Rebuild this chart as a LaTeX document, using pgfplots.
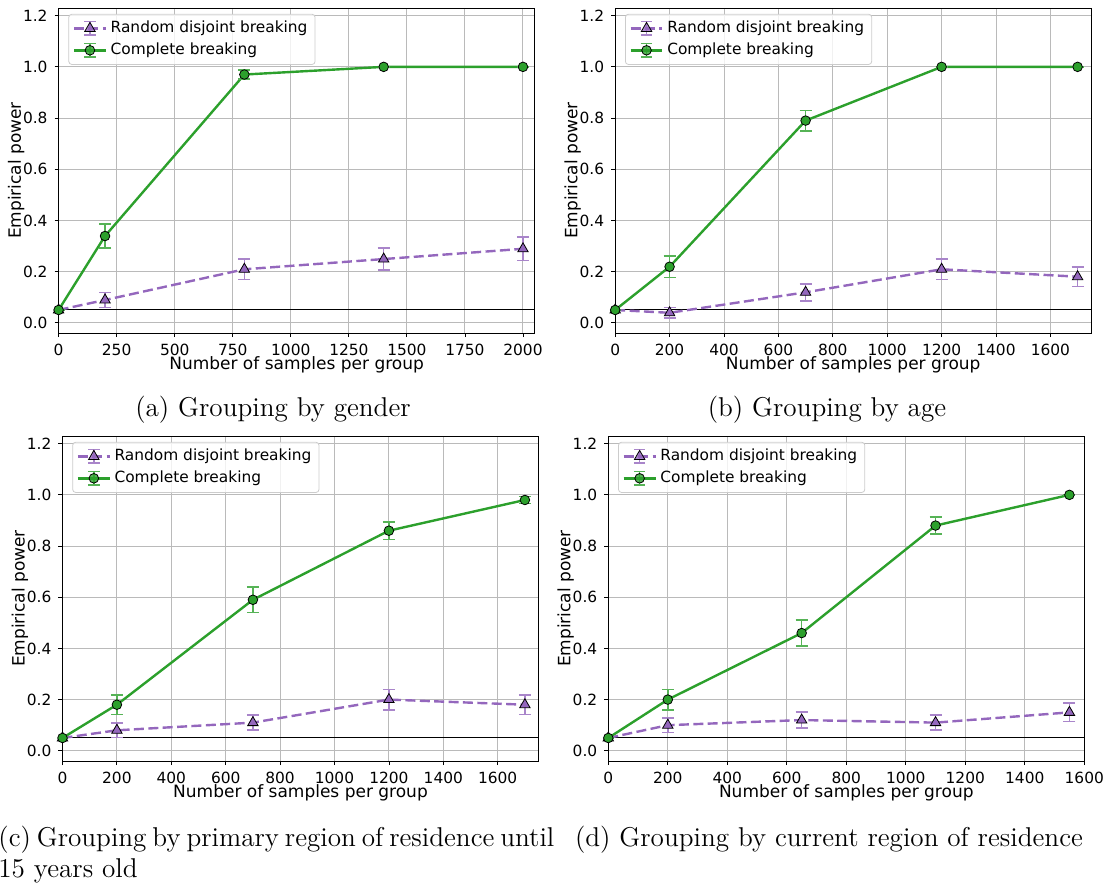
\documentclass[border=0pt]{standalone}
\usepackage{fontspec}
\usepackage{pgfplots}
\pgfplotsset{compat=1.18}
\newfontfamily\dejavu{DejaVu Sans}
\definecolor{tabpurple}{HTML}{9467BD}
\definecolor{tabgreen}{HTML}{2CA02C}
\colorlet{purpleerr}{tabpurple!80!white}
\colorlet{greenerr}{tabgreen!80!white}
\newcommand{\tickfont}{\dejavu\fontsize{7.7}{9.2}\selectfont}
\newcommand{\labfont}{\dejavu\fontsize{8.5}{10.2}\selectfont}
\newcommand{\capfont}{\fontsize{13.6}{16.3}\selectfont}
\pgfplotsset{
  powerax/.style={
    scale only axis, height=162.5pt, width=238pt,
    ymin=-0.04, ymax=1.23,
    ytick={0,0.2,0.4,0.6,0.8,1.0,1.2},
    yticklabel style={/pgf/number format/.cd, fixed, fixed zerofill, precision=1},
    xticklabel style={/pgf/number format/.cd, fixed, 1000 sep={}},
    /pgf/number format/assume math mode=true,
    grid=major, major grid style={line width=0.5pt, color=black!27},
    tick align=outside, major tick length=2pt,
    tick style={black, line width=0.4pt},
    xtick pos=bottom, ytick pos=left,
    axis line style={line width=0.5pt},
    ticklabel style={font=\tickfont},
    xlabel={Number of samples per group}, ylabel={Empirical power},
    every axis x label/.style={at={(axis description cs:0.5,0)}, anchor=center, yshift=-16pt, font=\labfont},
    every axis y label/.style={at={(axis description cs:0,0.5)}, rotate=90, anchor=center, yshift=21.25pt, font=\labfont},
    legend style={at={(0.0206,0.982)}, anchor=north west, draw=black!20,
      rounded corners=1.5pt, fill=white, fill opacity=0.8, text opacity=1,
      font=\tickfont, inner xsep=2pt, inner ysep=1.6pt,
      nodes={inner sep=1.8pt}},
    legend cell align=left,
  },
  purpleplot/.style={tabpurple, line width=1.2pt, dash pattern=on 5pt off 2.2pt,
    mark=triangle*, mark size=3pt,
    mark options={solid, fill=tabpurple, draw=black, line width=0.4pt},
    error bars/y dir=both, error bars/y explicit,
    error bars/error bar style={purpleerr, line width=0.8pt, solid},
    error bars/error mark options={rotate=90, mark size=3pt, purpleerr, line width=0.8pt, solid},
    legend image code/.code={
      \draw[purpleerr, line width=0.8pt, solid] (0.28cm,-0.12cm)--(0.28cm,0.12cm)
        (0.18cm,-0.12cm)--(0.38cm,-0.12cm) (0.18cm,0.12cm)--(0.38cm,0.12cm);
      \draw[tabpurple, line width=1.2pt, dash pattern=on 5pt off 2.2pt] (0cm,0cm)--(0.56cm,0cm);
      \draw[tabpurple, mark=triangle*, mark size=3pt, mark options={solid, fill=tabpurple, draw=black, line width=0.4pt}] plot coordinates {(0.28cm,0cm)};
    }},
  greenplot/.style={tabgreen, line width=1.2pt, solid,
    mark=*, mark size=2.4pt,
    mark options={solid, fill=tabgreen, draw=black, line width=0.4pt},
    error bars/y dir=both, error bars/y explicit,
    error bars/error bar style={greenerr, line width=0.8pt, solid},
    error bars/error mark options={rotate=90, mark size=3pt, greenerr, line width=0.8pt, solid},
    legend image code/.code={
      \draw[greenerr, line width=0.8pt, solid] (0.28cm,-0.12cm)--(0.28cm,0.12cm)
        (0.18cm,-0.12cm)--(0.38cm,-0.12cm) (0.18cm,0.12cm)--(0.38cm,0.12cm);
      \draw[tabgreen, line width=1.2pt] (0cm,0cm)--(0.56cm,0cm);
      \draw[tabgreen, mark=*, mark size=2.4pt, mark options={solid, fill=tabgreen, draw=black, line width=0.4pt}] plot coordinates {(0.28cm,0cm)};
    }},
}
\begin{document}
\begin{tikzpicture}
\path[use as bounding box] (0,0) rectangle (552.5pt,-442pt);
% (a)
\begin{axis}[powerax, at={(29.3pt,-166.5pt)}, anchor=south west,
  xmin=0, xmax=2050, xtick={0,250,500,750,1000,1250,1500,1750,2000}]
\addplot[black, line width=0.5pt, forget plot] coordinates {(0,0.05) (2050,0.05)};
\addplot[purpleplot] coordinates {
(0,0.05) +- (0,0.0)
(200,0.089) +- (0,0.029)
(800,0.209) +- (0,0.04)
(1400,0.249) +- (0,0.043)
(2000,0.289) +- (0,0.045)};
\addlegendentry{Random disjoint breaking}
\addplot[greenplot] coordinates {
(0,0.05) +- (0,0.0)
(200,0.339) +- (0,0.047)
(800,0.970) +- (0,0.017)
(1400,1.0) +- (0,0.0)
(2000,1.0) +- (0,0.0)};
\addlegendentry{Complete breaking}
\end{axis}
% (b)
\begin{axis}[powerax, at={(307.6pt,-166.5pt)}, anchor=south west,
  xmin=0, xmax=1750, xtick={0,200,400,600,800,1000,1200,1400,1600}]
\addplot[black, line width=0.5pt, forget plot] coordinates {(0,0.05) (1750,0.05)};
\addplot[purpleplot] coordinates {
(0,0.05) +- (0,0.0)
(200,0.039) +- (0,0.02)
(700,0.119) +- (0,0.033)
(1200,0.209) +- (0,0.04)
(1700,0.18) +- (0,0.038)};
\addlegendentry{Random disjoint breaking}
\addplot[greenplot] coordinates {
(0,0.05) +- (0,0.0)
(200,0.219) +- (0,0.042)
(700,0.790) +- (0,0.04)
(1200,1.0) +- (0,0.0)
(1700,1.0) +- (0,0.0)};
\addlegendentry{Complete breaking}
\end{axis}
% (c)
\begin{axis}[powerax, at={(31.25pt,-380.5pt)}, anchor=south west,
  xmin=0, xmax=1750, xtick={0,200,400,600,800,1000,1200,1400,1600}]
\addplot[black, line width=0.5pt, forget plot] coordinates {(0,0.05) (1750,0.05)};
\addplot[purpleplot] coordinates {
(0,0.05) +- (0,0.0)
(200,0.08) +- (0,0.028)
(700,0.11) +- (0,0.03)
(1200,0.20) +- (0,0.04)
(1700,0.18) +- (0,0.038)};
\addlegendentry{Random disjoint breaking}
\addplot[greenplot] coordinates {
(0,0.05) +- (0,0.0)
(200,0.18) +- (0,0.038)
(700,0.59) +- (0,0.05)
(1200,0.86) +- (0,0.034)
(1700,0.98) +- (0,0.013)};
\addlegendentry{Complete breaking}
\end{axis}
% (d)
\begin{axis}[powerax, at={(304.15pt,-380.5pt)}, anchor=south west,
  xmin=0, xmax=1600, xtick={0,200,400,600,800,1000,1200,1400,1600}]
\addplot[black, line width=0.5pt, forget plot] coordinates {(0,0.05) (1600,0.05)};
\addplot[purpleplot] coordinates {
(0,0.05) +- (0,0.0)
(200,0.10) +- (0,0.029)
(650,0.12) +- (0,0.032)
(1100,0.11) +- (0,0.03)
(1550,0.15) +- (0,0.036)};
\addlegendentry{Random disjoint breaking}
\addplot[greenplot] coordinates {
(0,0.05) +- (0,0.0)
(200,0.20) +- (0,0.04)
(650,0.46) +- (0,0.05)
(1100,0.88) +- (0,0.033)
(1550,1.0) +- (0,0.0)};
\addlegendentry{Complete breaking}
\end{axis}
% captions
\node[anchor=base, font=\capfont] at (136.5pt,-208pt) {(a) Grouping by gender};
\node[anchor=base, font=\capfont] at (413.5pt,-208pt) {(b) Grouping by age};
\node[anchor=base west, font=\capfont, inner sep=0pt] at (-1pt,-423pt) {\makebox[276.5pt][s]{(c) Grouping by primary region of residence until}};
\node[anchor=base west, font=\capfont, inner sep=0pt] at (-1pt,-438.5pt) {15 years old};
\node[anchor=base, font=\capfont] at (414.5pt,-423pt) {(d) Grouping by current region of residence};
\end{tikzpicture}
\end{document}
